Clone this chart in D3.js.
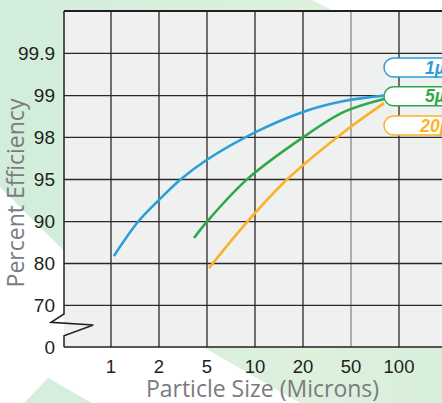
<!DOCTYPE html>
<html><head><meta charset="utf-8">
<script src="https://cdn.jsdelivr.net/npm/d3@7"></script>
<style>html,body{margin:0;padding:0;background:#fff;}svg{display:block;}</style>
</head><body>
<script>
// ---- data ----
const xTicks = [1, 2, 5, 10, 20, 50, 100];
const yTicks = [0, 70, 80, 90, 95, 98, 99, 99.9];
const yTop = 99.99;
const seriesNames = ["1µ", "5µ", "20µ"];
const blueX = [1.06, 1.56, 2.0, 3.31, 4.88, 10, 20, 45.6, 84.4];
const blueY = [81.8, 89.9, 92.57, 94.94, 96.32, 98.12, 98.61, 98.87, 99.0];
const greenX = [4.19, 5.0, 9.17, 20, 45.6, 84.4];
const greenY = [86.09, 90.0, 95.01, 98.0, 98.61, 98.92];
const orangeX = [5.21, 9.17, 16.67, 45.6, 84.4];
const orangeY = [78.92, 89.9, 95.0, 98.13, 98.82];
const colors = ["#2a9fd9", "#2fa84a", "#fbb227"];

(function(){
const W = 442, H = 403;
const svg = d3.select("body").append("svg").attr("width", W).attr("height", H);

// background decoration
const defs = svg.append("defs");
const grad = defs.append("linearGradient").attr("id", "bgg").attr("x1", "0").attr("y1", "0").attr("x2", "1").attr("y2", "0");
grad.append("stop").attr("offset", "0").attr("stop-color", "#d2eddb");
grad.append("stop").attr("offset", "0.7").attr("stop-color", "#ddf1dd");
grad.append("stop").attr("offset", "1").attr("stop-color", "#d8efdc");
svg.append("rect").attr("width", W).attr("height", H).attr("fill", "#ffffff");
svg.append("polygon")
  .attr("points", [[0,0],[312,0],[442,65],[442,403],[300,403],[101,288],[0,187]].map(p=>p.join(",")).join(" "))
  .attr("fill", "url(#bgg)");
svg.append("polygon")
  .attr("points", [[48,378],[24,403],[92,403]].map(p=>p.join(",")).join(" "))
  .attr("fill", "#d6efdc");

// scales (piecewise)
const x = d3.scaleLinear().domain(xTicks).range([111,159,207,255,303,351,399]);
const y = d3.scaleLinear().domain(yTicks.concat([yTop])).range([347,305.3,263.5,221.6,179.5,137.4,95.6,53.4,11]);

const pL = 64, pR = 470, pT = 11, pB = 347;

// plot fill
svg.append("rect").attr("x", pL).attr("y", pT).attr("width", pR-pL).attr("height", pB-pT).attr("fill", "#eff1f0");

// grid
const g = svg.append("g");
g.selectAll(".vg").data(xTicks).join("line")
  .attr("x1", d=>x(d)).attr("x2", d=>x(d)).attr("y1", pT).attr("y2", pB)
  .attr("stroke", d=> d===50 ? "#8d8789" : "#2e2526").attr("stroke-width", 1.3);
g.selectAll(".hg").data(yTicks.filter(d=>d>0)).join("line")
  .attr("x1", pL).attr("x2", pR).attr("y1", d=>y(d)).attr("y2", d=>y(d))
  .attr("stroke", "#2e2526").attr("stroke-width", 1.3);
// frame
g.append("line").attr("x1", pL).attr("x2", pR).attr("y1", pT).attr("y2", pT).attr("stroke", "#231f20").attr("stroke-width", 2);
g.append("line").attr("x1", pL).attr("x2", pR).attr("y1", pB).attr("y2", pB).attr("stroke", "#231f20").attr("stroke-width", 1.5);
// left axis with break
g.append("path")
  .attr("d", `M${pL},${pT} L${pL},314 L51,322.3 L93.3,325 L${pL},335.7 L${pL},${pB}`)
  .attr("fill", "none").attr("stroke", "#231f20").attr("stroke-width", 1.5).attr("stroke-linejoin", "miter");

// tick labels
svg.append("g").selectAll("text").data(yTicks).join("text")
  .attr("x", 55).attr("y", d=>y(d)).attr("dy", "0.36em").attr("text-anchor", "end")
  .attr("font-family", "Liberation Sans, Arial, sans-serif").attr("font-size", 19).attr("fill", "#231f20")
  .text(d=>d);
svg.append("g").selectAll("text").data(xTicks).join("text")
  .attr("x", d=>x(d)).attr("y", 373).attr("text-anchor", "middle")
  .attr("font-family", "Liberation Sans, Arial, sans-serif").attr("font-size", 18.5).attr("fill", "#231f20")
  .text(d=>d);

// axis titles
svg.append("text").attr("x", 262.5).attr("y", 397).attr("text-anchor", "middle")
  .attr("font-family", "Open Sans, sans-serif").attr("font-size", 23).attr("fill", "#7a7b7e")
  .text("Particle Size (Microns)");
svg.append("text").attr("transform", "translate(23.5,193) rotate(-90)").attr("text-anchor", "middle")
  .attr("font-family", "Open Sans, sans-serif").attr("font-size", 23).attr("fill", "#7a7b7e")
  .text("Percent Efficiency");

// curves
const series = [
  {xs: blueX, ys: blueY},
  {xs: greenX, ys: greenY},
  {xs: orangeX, ys: orangeY}
];
const line = d3.line().x(d=>x(d[0])).y(d=>y(d[1])).curve(d3.curveCatmullRom.alpha(0.5));
series.forEach((s,i)=>{
  const pts = s.xs.map((v,j)=>[v, s.ys[j]]);
  svg.append("path").attr("d", line(pts)).attr("fill","none")
    .attr("stroke", colors[i]).attr("stroke-width", 2.6).attr("stroke-linecap","butt");
});

// legend pills
const legY = [58, 86.7, 116];
const lg = svg.append("g");
seriesNames.forEach((n,i)=>{
  lg.append("rect").attr("x", 384).attr("y", legY[i]).attr("width", 90).attr("height", 19).attr("rx", 9.5)
    .attr("fill", "#ffffff").attr("stroke", colors[i]).attr("stroke-width", 1.5);
  lg.append("text").attr("x", 435).attr("y", legY[i] + 15.5).attr("text-anchor", "middle")
    .attr("font-family", "Liberation Sans, Arial, sans-serif").attr("font-weight", "bold").attr("font-style", "italic")
    .attr("font-size", 17.5).attr("fill", colors[i]).text(n);
});
})();
</script>
</body></html>
